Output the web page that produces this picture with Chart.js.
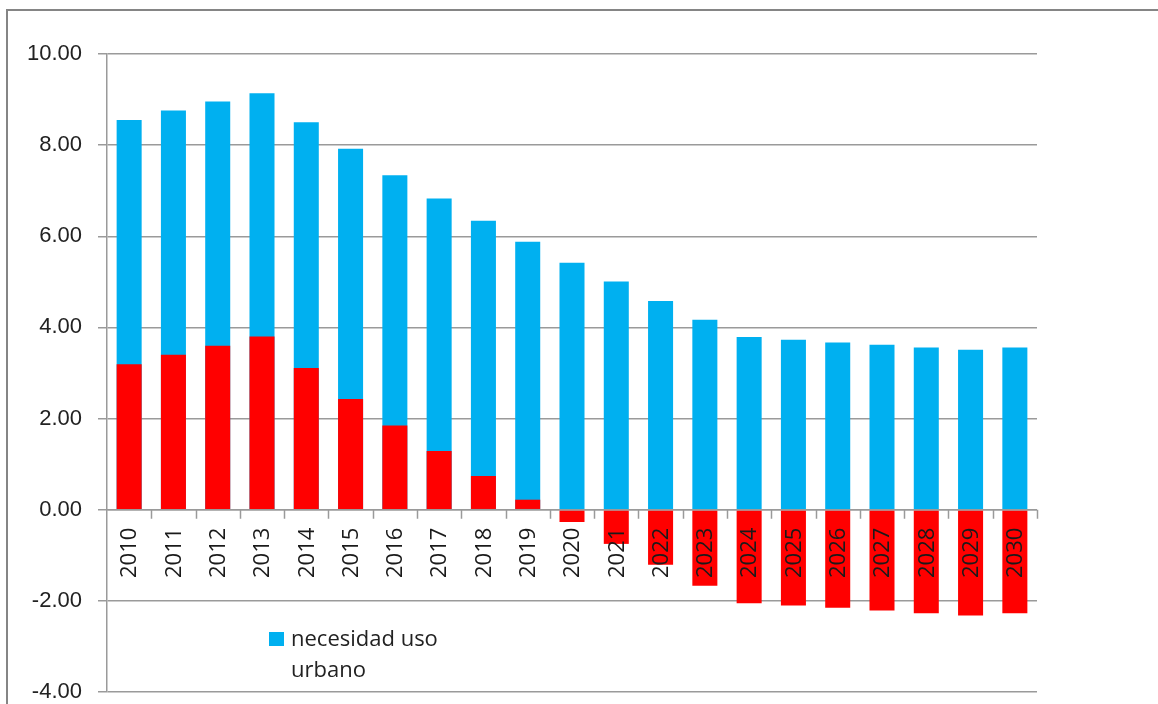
<!DOCTYPE html>
<html><head><meta charset="utf-8">
<script src="https://cdn.jsdelivr.net/npm/chart.js@4"></script>
<style>html,body{margin:0;padding:0;background:#fff}#wrap{position:relative;width:1158px;height:704px}</style>
</head><body><div id="wrap"><canvas id="c" width="1158" height="704"></canvas></div>
<script>
const categories = ['2010','2011','2012','2013','2014','2015','2016','2017','2018','2019','2020','2021','2022','2023','2024','2025','2026','2027','2028','2029','2030'];
const necesidadUsoUrbano = [8.55, 8.76, 8.96, 9.14, 8.50, 7.92, 7.34, 6.83, 6.34, 5.88, 5.42, 5.01, 4.58, 4.17, 3.79, 3.73, 3.67, 3.62, 3.56, 3.51, 3.56];
const balance = [3.19, 3.40, 3.60, 3.80, 3.11, 2.43, 1.85, 1.29, 0.74, 0.22, -0.27, -0.75, -1.21, -1.67, -2.05, -2.10, -2.15, -2.21, -2.27, -2.32, -2.27];
const yMin = -4, yMax = 10, yStep = 2;
const legendLabel = 'necesidad uso urbano';
const legendLines = ['necesidad uso', 'urbano'];

const BLUE = '#00B0F0', RED = '#FF0000', GRID = '#9a9a9a';

const decor = {
  id: 'decor',
  beforeDraw(chart) {
    const ctx = chart.ctx;
    ctx.save();
    ctx.fillStyle = '#fff';
    ctx.fillRect(0, 0, chart.width, chart.height);
    ctx.strokeStyle = '#858585';
    ctx.lineWidth = 2;
    ctx.beginPath();
    ctx.moveTo(7, chart.height);
    ctx.lineTo(7, 10);
    ctx.lineTo(chart.width, 10);
    ctx.stroke();
    ctx.restore();
  },
  afterDatasetsDraw(chart) {
    const ctx = chart.ctx;
    const xs = chart.scales.x, ys = chart.scales.y;
    const a = chart.chartArea;
    const y0 = ys.getPixelForValue(0);
    ctx.save();
    ctx.strokeStyle = GRID;
    ctx.lineWidth = 1.5;
    ctx.beginPath();
    ctx.moveTo(a.left, y0);
    ctx.lineTo(a.right, y0);
    ctx.stroke();
    const n = categories.length;
    const w = (a.right - a.left) / n;
    ctx.beginPath();
    for (let i = 1; i <= n; i++) {
      const x = Math.round(a.left + i * w) + 0.5;
      ctx.moveTo(x, y0);
      ctx.lineTo(x, y0 + 9);
    }
    ctx.stroke();
    ctx.fillStyle = '#1a1a1a';
    ctx.font = '22px "Open Sans"';
    ctx.textAlign = 'right';
    ctx.textBaseline = 'middle';
    categories.forEach((c, i) => {
      const x = xs.getPixelForValue(i);
      ctx.save();
      ctx.translate(x + 1, y0 + 18);
      ctx.rotate(-Math.PI / 2);
      ctx.fillText(c, 0, 0);
      ctx.restore();
    });
    ctx.fillStyle = BLUE;
    ctx.fillRect(269, 632, 15, 14);
    ctx.fillStyle = '#222';
    ctx.textAlign = 'left';
    ctx.textBaseline = 'alphabetic';
    ctx.fillText(legendLines[0], 291, 646);
    ctx.fillText(legendLines[1], 291, 677);
    ctx.restore();
  }
};

new Chart(document.getElementById('c'), {
  type: 'bar',
  data: {
    labels: categories,
    datasets: [
      { label: '', data: balance, backgroundColor: RED, order: 0, grouped: false,
        categoryPercentage: 1, barPercentage: 0.565 },
      { label: legendLabel, data: necesidadUsoUrbano, backgroundColor: BLUE, order: 1, grouped: false,
        categoryPercentage: 1, barPercentage: 0.565 }
    ]
  },
  options: {
    responsive: false,
    animation: false,
    devicePixelRatio: 1,
    layout: { padding: { left: 0, top: 54, right: 121, bottom: 12 } },
    plugins: { legend: { display: false }, tooltip: { enabled: false } },
    scales: {
      x: { display: false, offset: true },
      y: {
        min: yMin, max: yMax,
        afterFit(scale) { scale.width = 107; scale.paddingTop = 0; scale.paddingBottom = 0; },
        ticks: {
          stepSize: yStep,
          callback: v => Number(v).toFixed(2),
          font: { family: '"Liberation Sans", Arial, sans-serif', size: 22, lineHeight: 1 },
          color: '#222',
          padding: 16
        },
        grid: { color: GRID, lineWidth: 1.5, tickLength: 9, drawTicks: true, tickColor: GRID },
        border: { color: GRID, width: 1.5 }
      }
    }
  },
  plugins: [decor]
});
</script>
</body></html>
